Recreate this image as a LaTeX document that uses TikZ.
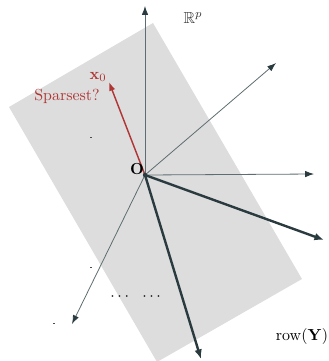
\documentclass[tikz,border=0pt]{standalone}
\usepackage{amsmath}
\usepackage{amssymb}
\usetikzlibrary{arrows.meta, positioning}
\definecolor{darkslate}{HTML}{2a3b40}
\definecolor{thinslate}{HTML}{5e6d70}
\definecolor{rustred}{HTML}{b03535}
\definecolor{planegray}{HTML}{dddddd}

\begin{document}
\begin{tikzpicture}[x=0.022cm, y=-0.022cm,
	vec/.style={draw=thinslate, line width=0.5pt, -{Latex[length=5.5pt, width=4pt, color=darkslate]}},
	boldvec/.style={draw=darkslate, line width=1.5pt, -{Latex[length=6pt, width=4.8pt]}},
	speck/.style={fill=black!70, inner sep=0pt, minimum width=1.2pt, minimum height=0.5pt}]
	\useasboundingbox (0,0) rectangle (329,361);
	% the subspace row(Y)
	\fill[planegray] (153,23) -- (302,279) -- (157,362) -- (9,107) -- cycle;
	\coordinate (O) at (145,175);
	\coordinate (up) at (145,6);
	\coordinate (ur) at (276,63);
	\coordinate (rt) at (314,174);
	\coordinate (dl) at (72,324);
	\coordinate (dr) at (324,240);
	\coordinate (dn) at (201,359);
	\coordinate (x0) at (109,82);
	\draw[vec] (O) -- (up);
	\draw[vec] (O) -- (ur);
	\draw[vec] (O) -- (rt);
	\draw[vec] (O) -- (dl);
	\draw[boldvec] (O) -- (dr);
	\draw[boldvec] (O) -- (dn);
	\draw[draw=rustred, line width=0.9pt, -{Latex[length=5.5pt, width=4pt]}] (O) -- (x0);
	\fill[darkslate] (O) circle (2.2);
	% labels
	\node[left=0.5pt of O, yshift=4pt, inner sep=0pt] (Olabel) {$\mathbf{O}$};
	\node[text=rustred, inner sep=0pt] (x0label) at (98,77) {$\mathbf{x}_0$};
	\node[text=rustred, inner sep=0pt] (sparse) at (67,96) {Sparsest?};
	\node[text=black!80, inner sep=0pt] (Rp) at (193,18) {$\mathbb{R}^p$};
	\node[inner sep=0pt] (rowY) at (302,337) {$\mathrm{row}(\mathbf{Y})$};
	\node[inner sep=0pt] (dots) at (137,297) {$\cdots\ \ \cdots$};
	\node[speck] (s1) at (91,137) {};
	\node[speck] (s2) at (91,267) {};
	\node[speck] (s3) at (54,323) {};
\end{tikzpicture}
\end{document}
